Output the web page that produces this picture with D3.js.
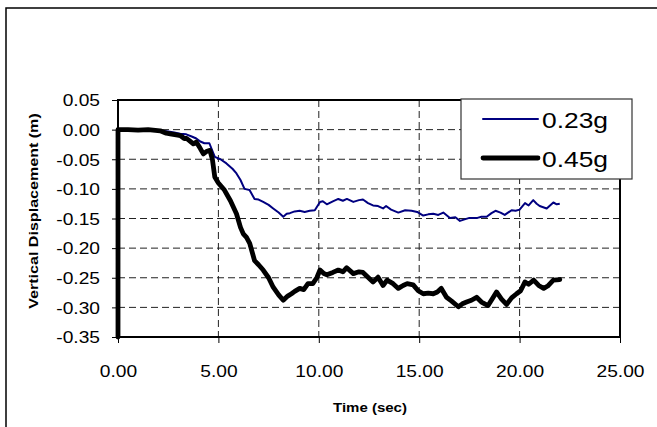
<!DOCTYPE html>
<html>
<head>
<meta charset="utf-8">
<script src="https://cdn.jsdelivr.net/npm/d3@7"></script>
<style>
  body { margin: 0; background: #fff; }
  svg { display: block; font-family: Arial, "Liberation Sans", sans-serif; }
  .grid { stroke: #222; stroke-width: 1; stroke-dasharray: 7,4; fill: none; }
  .tick line { stroke: #000; }
</style>
</head>
<body>
<script>
// series names
const seriesNames = ["0.23g", "0.45g"]
// 0.23g run
const t023 = [0,0.5,1.0,1.5,2.0,2.5,2.8,3.1,3.4,3.7,3.9,4.1,4.3,4.55,4.82,5.1,5.4,5.7,5.9,6.1,6.3,6.55,6.8,7.0,7.23,7.5,7.73,8.0,8.23,8.4,8.56,8.8,9.05,9.3,9.55,9.8,10.06,10.2,10.4,10.7,10.97,11.2,11.4,11.72,12.0,12.2,12.45,12.7,12.95,13.2,13.35,13.6,13.96,14.3,14.62,14.9,15.2,15.45,15.7,15.95,16.2,16.53,16.8,17.03,17.3,17.5,17.9,18.1,18.36,18.6,18.8,19.05,19.26,19.6,19.8,20.0,20.27,20.45,20.68,20.85,21.0,21.35,21.68,21.85,22.0]
const d023 = [0,0,-0.001,0,-0.001,-0.003,-0.005,-0.007,-0.008,-0.012,-0.015,-0.02,-0.023,-0.023,-0.046,-0.05,-0.057,-0.066,-0.074,-0.085,-0.1,-0.102,-0.117,-0.118,-0.122,-0.127,-0.133,-0.14,-0.147,-0.142,-0.141,-0.138,-0.137,-0.139,-0.137,-0.136,-0.122,-0.121,-0.126,-0.121,-0.117,-0.12,-0.117,-0.122,-0.119,-0.118,-0.124,-0.128,-0.129,-0.133,-0.129,-0.135,-0.14,-0.136,-0.137,-0.139,-0.145,-0.143,-0.142,-0.144,-0.14,-0.149,-0.148,-0.154,-0.151,-0.149,-0.149,-0.147,-0.147,-0.141,-0.137,-0.14,-0.144,-0.136,-0.137,-0.135,-0.124,-0.128,-0.119,-0.125,-0.129,-0.133,-0.123,-0.126,-0.125]
// 0.45g run
const t045 = [0,0,0.5,1.0,1.5,2.1,2.4,2.6,2.9,3.1,3.3,3.42,3.6,3.75,3.9,4.1,4.25,4.4,4.58,4.7,4.82,5.0,5.3,5.6,5.9,6.1,6.24,6.4,6.56,6.8,7.0,7.23,7.5,7.73,8.0,8.23,8.45,8.64,8.8,9.05,9.25,9.46,9.7,9.9,10.06,10.25,10.4,10.7,10.97,11.2,11.39,11.72,12.0,12.2,12.45,12.7,12.95,13.2,13.4,13.7,13.96,14.2,14.4,14.7,14.95,15.2,15.45,15.7,15.9,16.1,16.36,16.6,16.95,17.15,17.36,17.6,17.86,18.1,18.43,18.65,18.85,19.1,19.35,19.6,19.85,20.05,20.27,20.45,20.7,20.95,21.2,21.4,21.68,22.0]
const d045 = [-0.35,0,0,-0.001,0,-0.002,-0.006,-0.007,-0.009,-0.01,-0.015,-0.015,-0.02,-0.024,-0.021,-0.032,-0.041,-0.037,-0.035,-0.05,-0.08,-0.09,-0.102,-0.12,-0.142,-0.165,-0.176,-0.182,-0.192,-0.221,-0.228,-0.237,-0.25,-0.266,-0.279,-0.288,-0.281,-0.277,-0.273,-0.268,-0.27,-0.26,-0.26,-0.25,-0.237,-0.243,-0.245,-0.241,-0.237,-0.24,-0.233,-0.243,-0.24,-0.241,-0.249,-0.257,-0.249,-0.263,-0.254,-0.26,-0.268,-0.263,-0.26,-0.262,-0.272,-0.277,-0.276,-0.277,-0.274,-0.268,-0.283,-0.289,-0.299,-0.294,-0.291,-0.288,-0.283,-0.291,-0.297,-0.285,-0.274,-0.286,-0.295,-0.284,-0.277,-0.272,-0.257,-0.261,-0.254,-0.263,-0.268,-0.264,-0.254,-0.253]
// axis ticks
const xTicks = [0, 5, 10, 15, 20, 25]
const yTicks = [0.05, 0, -0.05, -0.10, -0.15, -0.20, -0.25, -0.30, -0.35]

const W = 657, H = 427
const pLeft = 118, pRight = 620, pTop = 100, pBottom = 337
const stretch = 1.2 // text in the original is drawn a bit wider than Arial

const svg = d3.select("body").append("svg").attr("width", W).attr("height", H)

// outer chart frame (only top and left edges visible)
svg.append("rect").attr("x", 6).attr("y", 8).attr("width", 800).attr("height", 600)
   .attr("fill", "none").attr("stroke", "#000").attr("stroke-width", 1.5)

const x = d3.scaleLinear().domain([0, 25]).range([pLeft, pRight])
const y = d3.scaleLinear().domain([-0.35, 0.05]).range([pBottom, pTop])
const fmt = v => d3.format(".2f")(v).replace("−", "-")

// gridlines
svg.append("g").selectAll("line").data(yTicks.filter(v => v < 0.04 && v > -0.34)).join("line")
   .attr("class", "grid").attr("x1", pLeft).attr("x2", pRight)
   .attr("y1", d => y(d)).attr("y2", d => y(d))
svg.append("g").selectAll("line").data(xTicks.filter(v => v > 0 && v < 25)).join("line")
   .attr("class", "grid").attr("y1", pTop).attr("y2", pBottom)
   .attr("x1", d => x(d)).attr("x2", d => x(d))

// axes
let yAxis = svg.append("g").attr("transform", `translate(${pLeft},0)`)
   .call(d3.axisLeft(y).tickValues(yTicks).tickFormat(fmt).tickSize(6).tickPadding(0))
yAxis.select(".domain").remove()
yAxis.selectAll("text").attr("font-size", 16).attr("font-family", "Arial, 'Liberation Sans', sans-serif")
   .attr("fill", "#000").attr("x", -18 / stretch).attr("dy", "0.36em")
   .attr("transform", `scale(${stretch},1)`)

let xAxis = svg.append("g").attr("transform", `translate(0,${pBottom})`)
   .call(d3.axisBottom(x).tickValues(xTicks).tickFormat(fmt).tickSize(6))
xAxis.select(".domain").remove()
xAxis.selectAll("text").attr("font-size", 16).attr("font-family", "Arial, 'Liberation Sans', sans-serif")
   .attr("fill", "#000").attr("y", 40).attr("dy", 0)
   .attr("transform", `scale(${stretch},1)`)

// plot border
svg.append("rect").attr("x", pLeft).attr("y", pTop)
   .attr("width", pRight - pLeft).attr("height", pBottom - pTop)
   .attr("fill", "none").attr("stroke", "#000").attr("stroke-width", 2)

// series
const line = d3.line().x(d => x(d[0])).y(d => y(d[1]))
svg.append("path").datum(d3.zip(t023, d023)).attr("d", line)
   .attr("fill", "none").attr("stroke", "#000080").attr("stroke-width", 2).attr("stroke-linejoin", "round")
svg.append("path").datum(d3.zip(t045, d045)).attr("d", line)
   .attr("fill", "none").attr("stroke", "#000").attr("stroke-width", 4.8)
   .attr("stroke-linejoin", "round").attr("stroke-linecap", "round")

// axis titles
svg.append("text").attr("transform", `translate(370,412) scale(1.25,1)`)
   .attr("text-anchor", "middle").attr("font-size", 12).attr("font-weight", "bold")
   .text("Time (sec)")
svg.append("text").attr("transform", `translate(38,211) rotate(-90) scale(1.34,1)`)
   .attr("text-anchor", "middle").attr("font-size", 12).attr("font-weight", "bold")
   .text("Vertical Displacement (m)")

// legend
const lg = svg.append("g")
lg.append("rect").attr("x", 461).attr("y", 99).attr("width", 171).attr("height", 80)
  .attr("fill", "#fff").attr("stroke", "#333").attr("stroke-width", 1.2)
const legendStyle = [{c: "#000080", w: 2}, {c: "#000", w: 4.8}]
seriesNames.forEach((name, i) => {
  const ly = 119 + i * 39
  lg.append("line").attr("x1", 483).attr("x2", 538).attr("y1", ly).attr("y2", ly)
    .attr("stroke", legendStyle[i].c).attr("stroke-width", legendStyle[i].w).attr("stroke-linecap", "round")
  lg.append("text").attr("transform", `translate(542,${ly + 9}) scale(1.2,1)`)
    .attr("font-size", 22).text(name)
})
</script>
</body>
</html>
